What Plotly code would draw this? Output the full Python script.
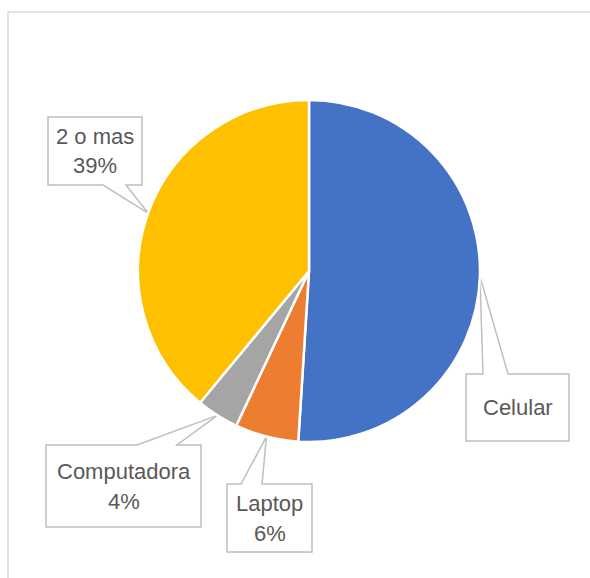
import math
import plotly.graph_objects as go

# ---- data ----
labels = ["Celular", "Laptop", "Computadora", "2 o mas"]
values = [51, 6, 4, 39]
show_pct = [False, True, True, True]
colors = ["#4472C4", "#ED7D31", "#A5A5A5", "#FFC000"]

# ---- layout (pixels) ----
W, H = 590, 578
CX, CY, R = 309, 271, 171
boxes = [
    dict(rect=(466, 374, 569, 441), edge="top", base=(483, 508)),
    dict(rect=(227, 484, 312, 552), edge="top", base=(241, 262)),
    dict(rect=(46, 445, 201, 527), edge="top", base=(137, 177)),
    dict(rect=(48, 117, 142, 185), edge="bottom", base=(103, 126)),
]
FONT = dict(family="Liberation Sans, Arial, sans-serif", size=22, color="#595959")


def px(x):
    return x / W


def py(y):
    return 1 - y / H


fig = go.Figure(go.Pie(
    labels=labels, values=values, sort=False, direction="clockwise", rotation=0,
    marker=dict(colors=colors, line=dict(color="white", width=2.5)),
    textinfo="none", showlegend=False,
    domain=dict(x=[px(CX - R), px(CX + R)], y=[py(CY + R), py(CY - R)]),
))

total = sum(values)
shapes = [dict(type="rect", xref="paper", yref="paper", x0=px(8), x1=px(W + 20),
               y0=py(H + 20), y1=py(12), line=dict(color="#d9d9d9", width=1.5),
               fillcolor="rgba(0,0,0,0)", layer="below")]
annotations = []
cum = 0
for lab, v, sp, b in zip(labels, values, show_pct, boxes):
    mid = (cum + v / 2) / total
    cum += v
    th = 2 * math.pi * mid
    tx, ty = CX + R * math.sin(th), CY - R * math.cos(th)
    x0, y0, x1, y1 = b["rect"]
    b1, b2 = b["base"]
    if b["edge"] == "top":
        pts = [(x0, y0), (b1, y0), (tx, ty), (b2, y0), (x1, y0), (x1, y1), (x0, y1)]
    else:
        pts = [(x0, y0), (x1, y0), (x1, y1), (b2, y1), (tx, ty), (b1, y1), (x0, y1)]
    path = "M " + " L ".join(f"{px(a):.5f},{py(c):.5f}" for a, c in pts) + " Z"
    shapes.append(dict(type="path", xref="paper", yref="paper", path=path,
                       fillcolor="white", line=dict(color="#bfbfbf", width=1.5),
                       layer="below"))
    bx, by = (x0 + x1) / 2, (y0 + y1) / 2
    if sp:
        pct = f"{round(v / total * 100)}%"
        lines = [(lab, by - 15), (pct, by + 15)]
    else:
        lines = [(lab, by)]
    for t, yy in lines:
        annotations.append(dict(text=t, x=px(bx), y=py(yy), xref="paper", yref="paper",
                                xanchor="center", yanchor="middle", showarrow=False,
                                font=FONT))

fig.update_layout(width=W, height=H, margin=dict(l=0, r=0, t=0, b=0),
                  paper_bgcolor="white", plot_bgcolor="white",
                  shapes=shapes, annotations=annotations)
fig.write_html("out.html", config={"displayModeBar": False},
               post_script="document.body.style.margin='0';document.body.style.overflow='hidden';")
